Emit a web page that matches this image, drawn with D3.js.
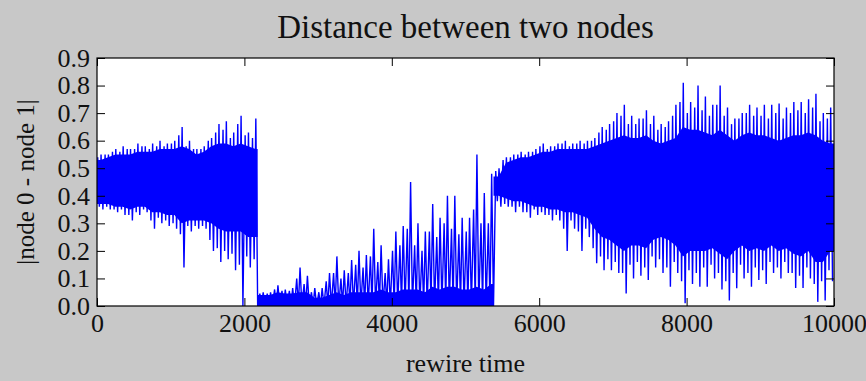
<!DOCTYPE html>
<html>
<head>
<meta charset="utf-8">
<script src="https://cdn.jsdelivr.net/npm/d3@7/dist/d3.min.js"></script>
<style>
  html, body { margin: 0; padding: 0; background: #c8c8c8; }
  svg { display: block; }
  text { font-family: "Liberation Serif", "Times New Roman", serif; fill: #111; }
</style>
</head>
<body>
<svg id="chart" width="866" height="381"></svg>
<script>
// ---- data (bins of 100 rewire-time units) ----
const binWidth = 100;
// rewire times where the signal jumps between regimes
const regimeBreaks = [0, 2180, 5380, 10000];
// upper edge of the dense (solid) band in each bin
const coreHi = [
  0.53,0.54,0.55,0.55,0.55,0.56,0.56,0.56,0.57,0.57,
  0.57,0.58,0.57,0.55,0.56,0.58,0.59,0.59,0.58,0.59,
  0.58,0.57,0.04,0.04,0.05,0.045,0.045,0.05,0.05,0.03,
  0.03,0.04,0.05,0.04,0.05,0.05,0.05,0.05,0.06,0.05,
  0.05,0.06,0.06,0.06,0.05,0.07,0.06,0.07,0.07,0.06,
  0.06,0.07,0.06,0.08,0.47,0.52,0.53,0.54,0.54,0.55,
  0.56,0.56,0.57,0.57,0.57,0.57,0.57,0.58,0.59,0.60,
  0.61,0.62,0.61,0.61,0.62,0.60,0.59,0.60,0.61,0.65,
  0.64,0.64,0.63,0.62,0.64,0.62,0.60,0.62,0.63,0.62,
  0.62,0.61,0.60,0.61,0.62,0.62,0.63,0.62,0.60,0.59
];
// lower edge of the dense band in each bin
const coreLo = [
  0.37,0.37,0.36,0.36,0.35,0.36,0.36,0.34,0.34,0.33,
  0.33,0.30,0.31,0.31,0.31,0.30,0.28,0.27,0.27,0.27,
  0.25,0.25,0,0,0,0,0,0,0,0,
  0,0,0,0,0,0,0,0,0,0,
  0,0,0,0,0,0,0,0,0,0,
  0,0,0,0,0.40,0.39,0.38,0.38,0.37,0.36,
  0.36,0.35,0.35,0.34,0.34,0.33,0.32,0.28,0.25,0.24,
  0.22,0.20,0.22,0.22,0.21,0.24,0.25,0.24,0.22,0.18,
  0.20,0.20,0.20,0.21,0.19,0.17,0.20,0.22,0.20,0.21,
  0.20,0.22,0.20,0.21,0.19,0.18,0.20,0.16,0.16,0.20
];
// highest value reached in each bin
const peak = [
  0.55,0.55,0.57,0.58,0.57,0.59,0.58,0.59,0.60,0.59,
  0.60,0.65,0.60,0.57,0.58,0.61,0.66,0.67,0.63,0.69,
  0.63,0.68,0.05,0.05,0.075,0.06,0.065,0.14,0.11,0.065,
  0.065,0.12,0.18,0.13,0.167,0.20,0.185,0.28,0.22,0.17,
  0.27,0.29,0.45,0.30,0.27,0.37,0.32,0.40,0.40,0.32,
  0.32,0.55,0.41,0.48,0.50,0.54,0.55,0.56,0.56,0.57,
  0.59,0.58,0.59,0.60,0.59,0.60,0.60,0.61,0.65,0.66,
  0.70,0.73,0.69,0.68,0.71,0.69,0.66,0.67,0.73,0.81,
  0.74,0.80,0.76,0.73,0.80,0.72,0.68,0.70,0.73,0.72,
  0.73,0.73,0.735,0.72,0.74,0.74,0.75,0.77,0.70,0.72
];
// second-highest spike in each bin
const peak2 = [
  0.54,0.55,0.56,0.56,0.57,0.57,0.58,0.57,0.58,0.58,
  0.59,0.62,0.58,0.57,0.57,0.60,0.63,0.64,0.61,0.66,
  0.62,0.61,0.045,0.045,0.06,0.055,0.055,0.10,0.08,0.05,
  0.05,0.09,0.12,0.10,0.12,0.15,0.14,0.18,0.16,0.12,
  0.20,0.22,0.28,0.22,0.20,0.27,0.25,0.30,0.28,0.26,
  0.27,0.35,0.30,0.30,0.49,0.53,0.54,0.55,0.55,0.56,
  0.58,0.57,0.58,0.59,0.58,0.59,0.59,0.60,0.63,0.64,
  0.67,0.69,0.66,0.66,0.68,0.66,0.64,0.65,0.69,0.74,
  0.70,0.72,0.71,0.69,0.73,0.69,0.66,0.68,0.70,0.69,
  0.69,0.68,0.70,0.68,0.70,0.71,0.70,0.72,0.67,0.68
];
// lowest value reached in each bin
const trough = [
  0.35,0.35,0.34,0.33,0.31,0.33,0.34,0.28,0.30,0.29,
  0.28,0.14,0.27,0.28,0.28,0.20,0.16,0.17,0.13,0.00,
  0.14,0.00,0,0,0,0,0,0,0,0,
  0,0,0,0,0,0,0,0,0,0,
  0,0,0,0,0,0,0,0,0,0,
  0,0,0,0,0.36,0.36,0.34,0.34,0.32,0.33,
  0.33,0.31,0.31,0.20,0.28,0.20,0.25,0.155,0.13,0.13,
  0.12,0.045,0.10,0.11,0.094,0.14,0.12,0.07,0.12,0.01,
  0.08,0.07,0.07,0.10,0.06,0.02,0.064,0.10,0.07,0.094,
  0.08,0.12,0.10,0.12,0.065,0.065,0.10,0.015,0.02,0.09
];
// second-lowest dip in each bin
const trough2 = [
  0.36,0.36,0.35,0.35,0.33,0.34,0.35,0.31,0.32,0.31,
  0.30,0.26,0.29,0.29,0.29,0.24,0.21,0.20,0.19,0.15,
  0.18,0.17,0,0,0,0,0,0,0,0,
  0,0,0,0,0,0,0,0,0,0,
  0,0,0,0,0,0,0,0,0,0,
  0,0,0,0,0.38,0.37,0.36,0.36,0.34,0.35,
  0.34,0.33,0.33,0.28,0.31,0.27,0.28,0.21,0.18,0.17,
  0.16,0.12,0.15,0.16,0.14,0.18,0.17,0.14,0.16,0.09,
  0.13,0.12,0.14,0.15,0.12,0.09,0.12,0.15,0.12,0.14,
  0.13,0.16,0.14,0.16,0.12,0.11,0.14,0.08,0.09,0.13
];
const xTicks = [0, 2000, 4000, 6000, 8000, 10000];
const yTicks = [0.0, 0.1, 0.2, 0.3, 0.4, 0.5, 0.6, 0.7, 0.8, 0.9];
const titleText = "Distance between two nodes";
const xLabel = "rewire time";
const yLabel = "|node 0 - node 1|";

// ---- layout ----
const svg = d3.select("#chart");
const m = { left: 97, right: 834, top: 58, bottom: 306 };
const x = d3.scaleLinear().domain([0, 10000]).range([m.left, m.right]);
const y = d3.scaleLinear().domain([0, 0.9]).range([m.bottom, m.top]);
const blue = "#0000ff";

svg.append("rect").attr("width", 866).attr("height", 381).attr("fill", "#c8c8c8");
svg.append("rect")
  .attr("x", m.left).attr("y", m.top)
  .attr("width", m.right - m.left).attr("height", m.bottom - m.top)
  .attr("fill", "#ffffff");

const bins = coreHi.map((d, i) => ({
  x0: i * binWidth, hi: d, lo: coreLo[i],
  pk: peak[i], pk2: peak2[i], tr: trough[i], tr2: trough2[i]
}));

const plot = svg.append("g");
const area = d3.area()
  .x(d => x(d.t))
  .y0(d => y(d.lo))
  .y1(d => y(d.hi));

// dense band, one piece per regime
for (let s = 0; s < regimeBreaks.length - 1; s++) {
  const a = regimeBreaks[s], b = regimeBreaks[s + 1];
  const seg = bins.filter(d => d.x0 + binWidth / 2 >= a && d.x0 + binWidth / 2 < b);
  if (!seg.length) continue;
  const pts = [{ t: a, hi: seg[0].hi, lo: seg[0].lo }]
    .concat(seg.map(d => ({ t: d.x0 + binWidth / 2, hi: d.hi, lo: d.lo })))
    .concat([{ t: b, hi: seg[seg.length - 1].hi, lo: seg[seg.length - 1].lo }]);
  plot.append("path").datum(pts).attr("fill", blue).attr("d", area);
}

// the signal itself: in each bin it swings through its secondary and extreme values
const signal = [];
bins.forEach(d => {
  signal.push({ t: d.x0 + 10, v: d.pk2 });
  signal.push({ t: d.x0 + 32, v: d.tr2 });
  signal.push({ t: d.x0 + 55, v: d.pk });
  signal.push({ t: d.x0 + 80, v: d.tr });
});
plot.append("path")
  .datum(signal)
  .attr("fill", "none")
  .attr("stroke", blue)
  .attr("stroke-width", 1.4)
  .attr("stroke-linejoin", "bevel")
  .attr("d", d3.line().x(d => x(d.t)).y(d => y(d.v)));

// ---- axes (ticks inward, classic style) ----
const tickLen = 8;
const fmtY = d3.format(".1f");
const gx = svg.append("g").attr("transform", `translate(0,${m.bottom})`)
  .call(d3.axisBottom(x).tickValues(xTicks).tickFormat(d3.format("d"))
    .tickSizeInner(-tickLen).tickSizeOuter(0).tickPadding(8));
const gxt = svg.append("g").attr("transform", `translate(0,${m.top})`)
  .call(d3.axisTop(x).tickValues(xTicks).tickFormat("")
    .tickSizeInner(-tickLen).tickSizeOuter(0));
const gy = svg.append("g").attr("transform", `translate(${m.left},0)`)
  .call(d3.axisLeft(y).tickValues(yTicks).tickFormat(fmtY)
    .tickSizeInner(-tickLen).tickSizeOuter(0).tickPadding(7));
const gyr = svg.append("g").attr("transform", `translate(${m.right},0)`)
  .call(d3.axisRight(y).tickValues(yTicks).tickFormat("")
    .tickSizeInner(-tickLen).tickSizeOuter(0));
[gx, gxt, gy, gyr].forEach(g => {
  g.select(".domain").remove();
  g.selectAll(".tick line").attr("stroke", "#000").attr("stroke-width", 1);
  g.selectAll(".tick text")
    .style("font-family", '"Liberation Serif", "Times New Roman", serif')
    .style("font-size", "26px").attr("fill", "#111");
});

svg.append("rect")
  .attr("x", m.left).attr("y", m.top)
  .attr("width", m.right - m.left).attr("height", m.bottom - m.top)
  .attr("fill", "none").attr("stroke", "#000").attr("stroke-width", 1.2);

// ---- titles ----
svg.append("text")
  .attr("x", (m.left + m.right) / 2).attr("y", 38)
  .attr("text-anchor", "middle").style("font-size", "33px")
  .text(titleText);
svg.append("text")
  .attr("x", (m.left + m.right) / 2).attr("y", 372)
  .attr("text-anchor", "middle").style("font-size", "26px")
  .text(xLabel);
svg.append("text")
  .attr("transform", `translate(34,${(m.top + m.bottom) / 2}) rotate(-90)`)
  .attr("text-anchor", "middle").style("font-size", "25px")
  .text(yLabel);
</script>
</body>
</html>
